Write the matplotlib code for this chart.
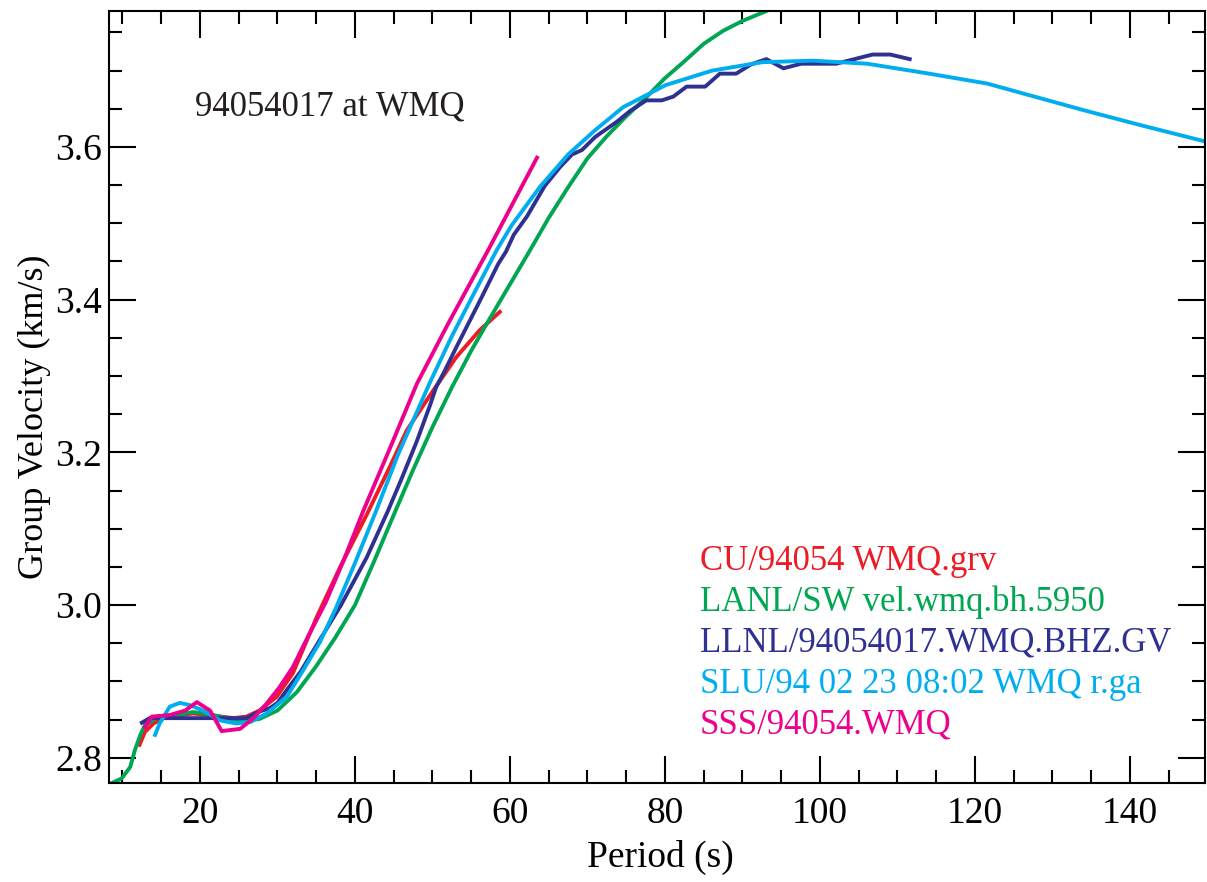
import matplotlib
matplotlib.use('Agg')
import matplotlib.pyplot as plt
from matplotlib.ticker import MultipleLocator

plt.rcParams['font.family'] = ['Liberation Serif', 'DejaVu Serif']

# CU/94054 WMQ.grv
cu_period = [12.2, 12.9, 14.0, 15.7, 19.1, 21.3, 24.3, 26.0, 27.7, 29.9, 32.0, 35.1,
             38.1, 41.5, 44.5, 46.7, 50.1, 53.1, 56.1, 58.7]
cu_vel = [2.817, 2.834, 2.845, 2.854, 2.858, 2.856, 2.852, 2.854, 2.862, 2.880, 2.911, 2.985,
          3.050, 3.118, 3.181, 3.229, 3.281, 3.325, 3.360, 3.384]

# LANL/SW vel.wmq.bh.5950
lanl_period = [8.4, 9.9, 11.0, 11.6, 12.3, 12.9, 14.4, 17.0, 19.1, 21.3, 23.4, 25.6, 27.7,
               30.0, 32.5, 35.0, 37.5, 40.0, 42.5, 45.0, 47.5, 50.0, 52.5, 55.0, 57.5,
               60.0, 62.5, 65.0, 67.5, 70.0, 72.5, 75.0, 77.5, 80.0, 82.5, 85.0, 87.5,
               90.0, 93.1]
lanl_vel = [2.766, 2.773, 2.788, 2.810, 2.830, 2.843, 2.852, 2.856, 2.860, 2.857, 2.852, 2.848,
            2.851, 2.862, 2.886, 2.920, 2.958, 3.000, 3.058, 3.118, 3.177, 3.233, 3.285,
            3.333, 3.377, 3.420, 3.463, 3.507, 3.547, 3.585, 3.614, 3.640, 3.664, 3.690,
            3.712, 3.735, 3.752, 3.765, 3.778]

# LLNL/94054017.WMQ.BHZ.GV
llnl_period = [12.5, 13.5, 26.0, 27.5, 29.0, 30.0, 31.0, 33.0, 35.5, 38.2, 41.5, 44.2, 46.0,
               48.0, 49.7, 50.5, 51.5, 53.1, 56.1, 58.5, 59.5, 60.5, 62.2, 64.5, 66.5,
               68.0, 69.3, 71.0, 73.8, 75.5, 77.6, 79.6, 81.1, 82.8, 85.2, 87.1, 89.2,
               91.1, 93.1, 95.3, 97.6, 102.1, 106.8, 109.1, 111.6]
llnl_vel = [2.846, 2.852, 2.852, 2.860, 2.865, 2.872, 2.886, 2.913, 2.955, 3.000, 3.062, 3.122,
            3.165, 3.215, 3.262, 3.286, 3.305, 3.338, 3.398, 3.447, 3.463, 3.485, 3.509,
            3.549, 3.574, 3.590, 3.596, 3.613, 3.633, 3.647, 3.661, 3.661, 3.666, 3.679,
            3.679, 3.696, 3.696, 3.708, 3.715, 3.703, 3.709, 3.709, 3.721, 3.721, 3.715]

# SLU/94 02 23 08:02 WMQ r.ga
slu_period = [14.2, 14.8, 16.1, 17.4, 18.7, 20.4, 22.6, 24.7, 26.5, 28.6, 31.2, 33.1, 35.5,
              37.5, 40.0, 42.6, 45.6, 49.7, 52.5, 55.3, 58.3, 60.2, 63.9, 67.5, 71.0,
              74.6, 80.1, 86.1, 92.6, 99.1, 106.1, 114.1, 121.6, 134.1, 141.6, 149.8]
slu_vel = [2.830, 2.845, 2.867, 2.872, 2.869, 2.862, 2.849, 2.845, 2.847, 2.858, 2.880, 2.911,
           2.952, 2.995, 3.055, 3.120, 3.198, 3.292, 3.352, 3.407, 3.465, 3.497, 3.548,
           3.590, 3.622, 3.652, 3.681, 3.700, 3.711, 3.713, 3.709, 3.696, 3.683, 3.648,
           3.628, 3.607]

# SSS/94054.WMQ
sss_period = [12.9, 13.8, 16.1, 18.1, 19.6, 21.3, 22.8, 25.2, 26.9, 28.6, 30.3, 32.0, 34.0,
              36.2, 38.6, 41.1, 44.5, 48.0, 52.0, 57.2, 63.5]
sss_vel = [2.840, 2.854, 2.856, 2.862, 2.873, 2.862, 2.835, 2.838, 2.852, 2.871, 2.893, 2.919,
           2.960, 3.003, 3.060, 3.124, 3.205, 3.290, 3.368, 3.465, 3.586]

labels = ['CU/94054 WMQ.grv', 'LANL/SW vel.wmq.bh.5950', 'LLNL/94054017.WMQ.BHZ.GV',
          'SLU/94 02 23 08:02 WMQ r.ga', 'SSS/94054.WMQ']
colors = ['#ed1c24', '#00a651', '#2e3192', '#00aeef', '#ec008c']

fig = plt.figure(figsize=(12.07, 8.82), dpi=100)
ax = fig.add_axes([0.0903, 0.1122, 0.9080, 0.8753])

series = [(cu_period, cu_vel), (lanl_period, lanl_vel), (llnl_period, llnl_vel),
          (slu_period, slu_vel), (sss_period, sss_vel)]
for (p, v), c in zip(series, colors):
    ax.plot(p, v, color=c, lw=2.8)

ax.set_xlim(8.26, 149.7)
ax.set_ylim(2.767, 3.778)
ax.xaxis.set_major_locator(MultipleLocator(20))
ax.xaxis.set_minor_locator(MultipleLocator(5))
ax.yaxis.set_major_locator(MultipleLocator(0.2))
ax.yaxis.set_minor_locator(MultipleLocator(0.05))
ax.yaxis.set_major_formatter(plt.FuncFormatter(lambda v, _: '%.1f' % v))

for s in ax.spines.values():
    s.set_linewidth(1.5)
ax.tick_params(which='both', direction='in', top=True, right=True, width=1.5)
ax.tick_params(which='major', length=19.5, labelsize=27)
ax.tick_params(which='minor', length=9.5)
ax.tick_params(axis='x', pad=10)
ax.tick_params(axis='y', pad=5)

ax.set_xlabel('Period (s)', fontsize=27)
ax.set_ylabel('Group Velocity (km/s)', fontsize=26)
ax.xaxis.set_label_coords(0.503, -0.073)
ax.yaxis.set_label_coords(-0.053, 0.474)

ax.text(19.35, 3.6415, '94054017 at WMQ', fontsize=25, color='#231f20')

for i, (lab, c) in enumerate(zip(labels, colors)):
    ax.text(84.5, 3.046 - i * 0.0535, lab, fontsize=25, color=c)

fig.savefig('out.png', dpi=100)
